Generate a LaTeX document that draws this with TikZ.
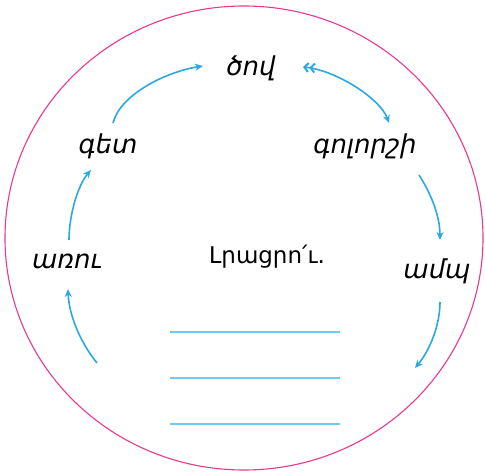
\documentclass[tikz,border=0pt]{standalone}
\usepackage{fontspec}
\setmainfont{DejaVu Sans}
\usetikzlibrary{arrows.meta}
\definecolor{ringpink}{HTML}{E8388F}
\definecolor{arrowblue}{HTML}{2AA9E0}
\definecolor{lineblue}{HTML}{6FCBF0}
\tikzset{
  word/.style={font=\fontsize{26}{26}\selectfont\itshape, inner sep=0pt, anchor=base},
  title/.style={font=\fontsize{23}{23}\selectfont, inner sep=0pt, anchor=base},
  cyc/.style={draw=arrowblue, line width=1.6pt, -{Stealth[length=8pt,width=7pt]}},
  writeline/.style={draw=lineblue, line width=1.3pt},
}
\begin{document}
\begin{tikzpicture}[x=1pt,y=-1pt]
\useasboundingbox (0,0) rectangle (485,473);
\draw[ringpink, line width=1.1pt] (244,238) ellipse [x radius=239, y radius=232];

\node[word] (sea) at (251,76) {ծով};
\node[word] (vapor) at (365,154) {գոլորշի};
\node[word] (cloud) at (437,279) {ամպ};
\node[word] (stream) at (67,269) {առու};
\node[word] (river) at (108,154) {գետ};
\node[title] (task) at (267,264) {Լրացրո՛ւ.};

\coordinate (a1s) at (113,123); \coordinate (a1e) at (203,66);
\coordinate (a2s) at (303,67);  \coordinate (a2e) at (389,123);
\coordinate (a3s) at (419,175); \coordinate (a3e) at (440,240);
\coordinate (a4s) at (440,302); \coordinate (a4e) at (415,368);
\coordinate (a5s) at (97,363);  \coordinate (a5e) at (68,289);
\coordinate (a6s) at (69,240);  \coordinate (a6e) at (91,170);

\draw[cyc] (a1s) .. controls (120,95) and (165,72) .. (a1e);
\draw[cyc, {Straight Barb[length=4pt,width=9pt,line width=2pt] Straight Barb[length=4pt,width=9pt,line width=2pt]}-{Stealth[length=8pt,width=7pt]}] (a2s) .. controls (335,70) and (380,98) .. (a2e);
\draw[cyc] (a3s) .. controls (430,192) and (440,215) .. (a3e);
\draw[cyc] (a4s) .. controls (440,325) and (430,350) .. (a4e);
\draw[cyc] (a5s) .. controls (80,342) and (69,315) .. (a5e);
\draw[cyc] (a6s) .. controls (69,215) and (78,185) .. (a6e);

\coordinate (l1a) at (170,332); \coordinate (l1b) at (340,332);
\coordinate (l2a) at (170,378); \coordinate (l2b) at (340,378);
\coordinate (l3a) at (170,424); \coordinate (l3b) at (340,424);
\draw[writeline] (l1a) -- (l1b);
\draw[writeline] (l2a) -- (l2b);
\draw[writeline] (l3a) -- (l3b);
\end{tikzpicture}
\end{document}
